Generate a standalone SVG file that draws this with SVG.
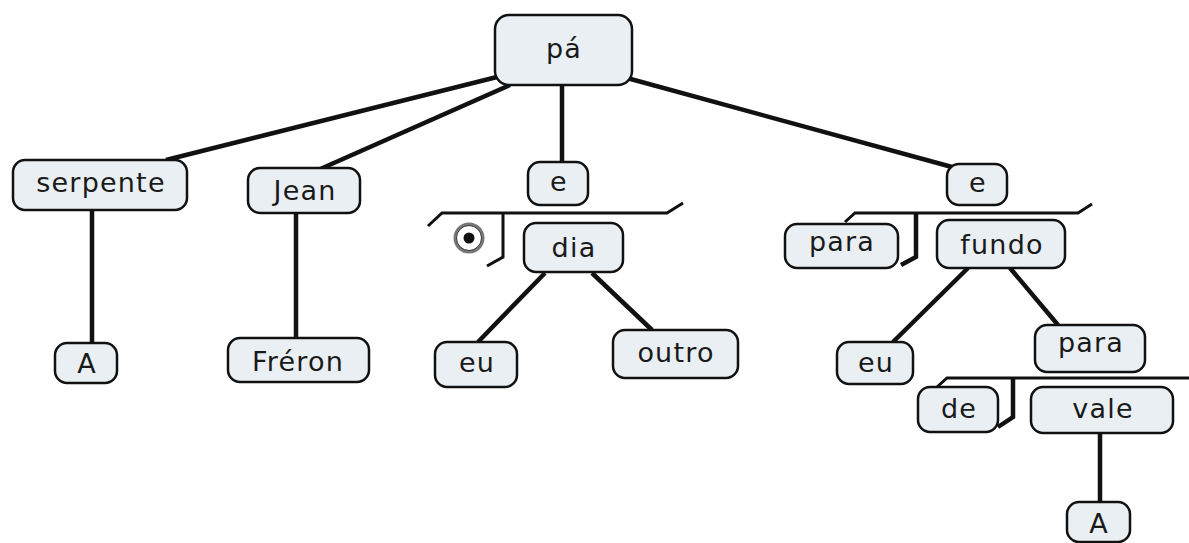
<svg xmlns="http://www.w3.org/2000/svg" width="1189" height="543" viewBox="0 0 1189 543">
<style>
.box{fill:#e9eff3;stroke:#111;stroke-width:2.5}
.t{font-family:"DejaVu Sans",Verdana,sans-serif;font-size:27px;letter-spacing:1.2px;fill:#1a1a1a;text-anchor:middle}
.ln{stroke:#111;stroke-width:4.5;fill:none;stroke-linecap:butt}
.br{stroke:#111;stroke-width:3;fill:none}
</style>
<rect width="1189" height="543" fill="#fff"/>
<g id="connectors">
<line class="ln" x1="497" y1="77" x2="166" y2="160"/>
<line class="ln" x1="510" y1="85" x2="318" y2="170"/>
<line class="ln" x1="562" y1="85" x2="562" y2="162"/>
<line class="ln" x1="627" y1="78" x2="952" y2="167"/>
<line class="ln" x1="92" y1="210" x2="92" y2="343"/>
<line class="ln" x1="296" y1="213" x2="296" y2="338"/>
<polyline class="br" points="428,226 442,213 667,213 683,203"/>
<polyline class="br" points="503,213 503,257 487,266"/>
<line class="ln" x1="545" y1="273" x2="478" y2="342"/>
<line class="ln" x1="592" y1="273" x2="652" y2="330"/>
<polyline class="br" points="845,222 855,213 1078,213 1092,204"/>
<polyline class="ln" points="916,213 916,257 901,265"/>
<line class="ln" x1="968" y1="268" x2="893" y2="342"/>
<line class="ln" x1="1010" y1="268" x2="1058" y2="325"/>
<polyline class="br" points="937,387 947,378 1189,378"/>
<polyline class="ln" points="1013,378 1013,417 998,427"/>
<line class="ln" x1="1100" y1="433" x2="1100" y2="502"/>
<circle cx="469" cy="238" r="14" fill="#fff" stroke="#777" stroke-width="3"/>
<circle cx="469" cy="238" r="12.5" fill="none" stroke="#333" stroke-width="1"/>
<circle cx="469" cy="238" r="5.5" fill="#111"/>
</g>
<g id="n-pa"><rect class="box" x="495" y="15" width="137" height="70" rx="14"/><text class="t" x="564" y="58">pá</text></g>
<g id="n-serpente"><rect class="box" x="13" y="160" width="174" height="50" rx="12"/><text class="t" x="101" y="192">serpente</text></g>
<g id="n-jean"><rect class="box" x="248" y="168" width="112" height="45" rx="12"/><text class="t" x="305" y="200">Jean</text></g>
<g id="n-e1"><rect class="box" x="528" y="162" width="60" height="43" rx="12"/><text class="t" x="559" y="191">e</text></g>
<g id="n-e2"><rect class="box" x="947" y="164" width="60" height="41" rx="12"/><text class="t" x="978" y="192">e</text></g>
<g id="n-dia"><rect class="box" x="524" y="223" width="99" height="49" rx="12"/><text class="t" x="574" y="257">dia</text></g>
<g id="n-para1"><rect class="box" x="785" y="224" width="113" height="44" rx="12"/><text class="t" x="842" y="251">para</text></g>
<g id="n-fundo"><rect class="box" x="937" y="220" width="128" height="48" rx="12"/><text class="t" x="1002" y="254">fundo</text></g>
<g id="n-a1"><rect class="box" x="55" y="343" width="62" height="40" rx="12"/><text class="t" x="87" y="373">A</text></g>
<g id="n-freron"><rect class="box" x="228" y="338" width="141" height="44" rx="12"/><text class="t" x="298" y="371">Fréron</text></g>
<g id="n-eu1"><rect class="box" x="435" y="342" width="82" height="45" rx="12"/><text class="t" x="477" y="372">eu</text></g>
<g id="n-outro"><rect class="box" x="613" y="330" width="125" height="48" rx="12"/><text class="t" x="676" y="362">outro</text></g>
<g id="n-eu2"><rect class="box" x="837" y="342" width="76" height="42" rx="12"/><text class="t" x="876" y="372">eu</text></g>
<g id="n-para2"><rect class="box" x="1035" y="325" width="110" height="47" rx="12"/><text class="t" x="1091" y="352">para</text></g>
<g id="n-de"><rect class="box" x="918" y="387" width="80" height="45" rx="12"/><text class="t" x="959" y="418">de</text></g>
<g id="n-vale"><rect class="box" x="1031" y="387" width="142" height="46" rx="12"/><text class="t" x="1103" y="418">vale</text></g>
<g id="n-a2"><rect class="box" x="1067" y="502" width="63" height="40" rx="12"/><text class="t" x="1099" y="533">A</text></g>
</svg>
